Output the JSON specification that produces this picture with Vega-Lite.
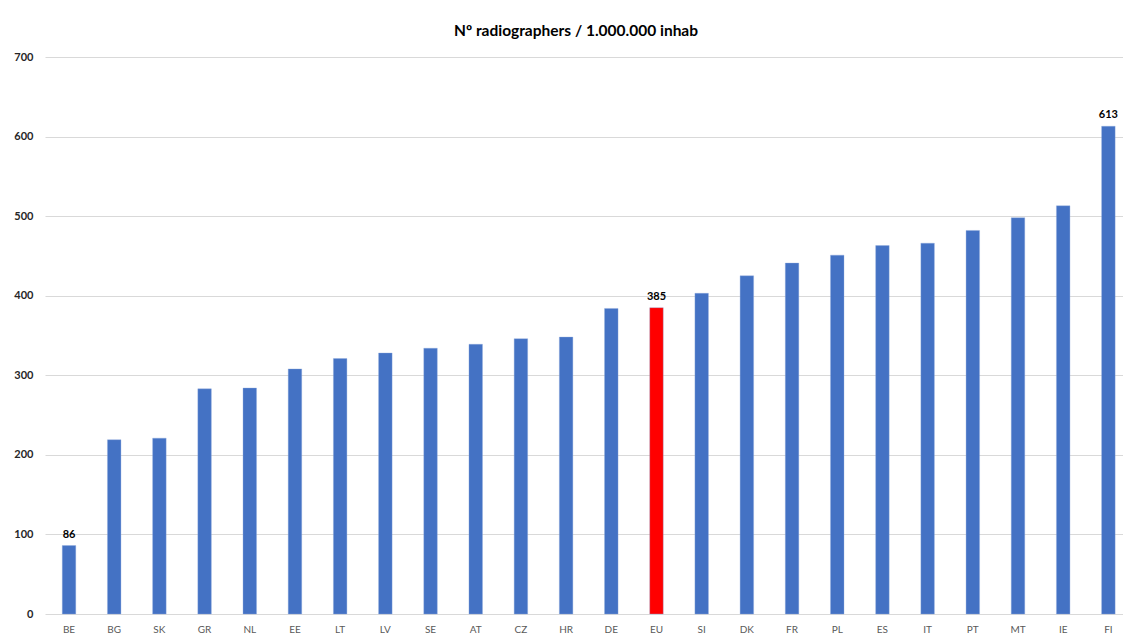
{
  "$schema": "https://vega.github.io/schema/vega-lite/v6.json",
  "autosize": {"type": "none"},
  "padding": {"left": 45, "top": 57, "right": 0, "bottom": 23},
  "width": 1078,
  "height": 557,
  "background": "white",
  "title": {
    "text": "Nº radiographers / 1.000.000 inhab",
    "font": "Lato",
    "fontSize": 15.5,
    "fontWeight": "bold",
    "color": "#000000",
    "anchor": "middle",
    "offset": 12,
    "dx": -8
  },
  "config": {
    "view": {"stroke": null},
    "font": "Lato"
  },
  "data": {
    "values": [
      {"country": "BE", "value": 86},
      {"country": "BG", "value": 219},
      {"country": "SK", "value": 221},
      {"country": "GR", "value": 283},
      {"country": "NL", "value": 284},
      {"country": "EE", "value": 308},
      {"country": "LT", "value": 321},
      {"country": "LV", "value": 328},
      {"country": "SE", "value": 334},
      {"country": "AT", "value": 339},
      {"country": "CZ", "value": 346},
      {"country": "HR", "value": 348},
      {"country": "DE", "value": 384},
      {"country": "EU", "value": 385},
      {"country": "SI", "value": 403},
      {"country": "DK", "value": 425},
      {"country": "FR", "value": 441},
      {"country": "PL", "value": 451},
      {"country": "ES", "value": 463},
      {"country": "IT", "value": 466},
      {"country": "PT", "value": 482},
      {"country": "MT", "value": 498},
      {"country": "IE", "value": 513},
      {"country": "FI", "value": 613}
    ]
  },
  "encoding": {
    "x": {
      "field": "country",
      "type": "nominal",
      "sort": null,
      "scale": {"paddingInner": 0.701, "paddingOuter": 0.278, "align": 0.687},
      "axis": {
        "title": null,
        "labelAngle": 0,
        "ticks": false,
        "domain": false,
        "labelPadding": 10,
        "labelFontSize": 10,
        "labelColor": "#595959",
        "labelFont": "Lato"
      }
    },
    "y": {
      "field": "value",
      "type": "quantitative",
      "scale": {"domain": [0, 700]},
      "axis": {
        "title": null,
        "values": [0, 100, 200, 300, 400, 500, 600, 700],
        "ticks": false,
        "domain": false,
        "labelPadding": 12,
        "labelFontSize": 11,
        "labelFontWeight": "bold",
        "labelColor": "#262626",
        "labelFont": "Lato",
        "gridColor": "#d9d9d9",
        "gridWidth": 1
      }
    }
  },
  "layer": [
    {
      "mark": {"type": "bar", "stroke": "#8faadc", "strokeWidth": 0.6, "strokeOpacity": 0.6},
      "encoding": {
        "color": {
          "condition": {"test": "datum.country === 'EU'", "value": "#ff0000"},
          "value": "#4472c4"
        }
      }
    },
    {
      "transform": [{"filter": "indexof(['BE','EU','FI'], datum.country) >= 0"}],
      "mark": {"type": "text", "dy": -8, "baseline": "alphabetic", "fontSize": 11, "fontWeight": "bold", "font": "Lato", "color": "#000000"},
      "encoding": {
        "text": {"field": "value", "type": "quantitative"}
      }
    }
  ]
}
